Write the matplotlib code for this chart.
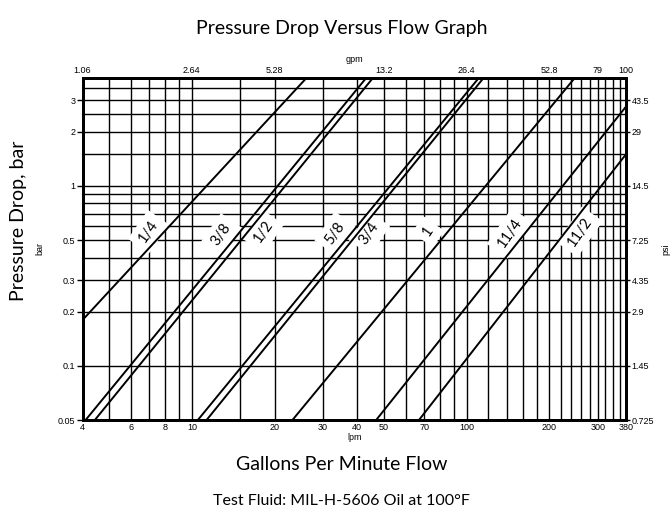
import matplotlib
matplotlib.use('Agg')
import matplotlib.pyplot as plt

# grid positions (lpm on x, bar on y)
lpm_grid = [5, 6, 7, 8, 9, 10, 15, 20, 30, 40, 50, 60, 70, 80, 90, 100,
            120, 140, 160, 180, 200, 220, 240, 260, 280, 300, 320, 340, 360]
bar_grid = [0.1, 0.2, 0.3, 0.4, 0.5, 0.6, 0.7, 0.8, 0.9, 1, 1.5, 2, 2.5, 3, 3.5]

lpm_ticks = [4, 6, 8, 10, 20, 30, 40, 50, 70, 100, 200, 300, 380]
gpm_pos = [4, 10, 20, 50, 100, 200, 300, 380]
gpm_labels = ['1.06', '2.64', '5.28', '13.2', '26.4', '52.8', '79', '100']
bar_ticks = [0.05, 0.1, 0.2, 0.3, 0.5, 1, 2, 3]
bar_labels = ['0.05', '0.1', '0.2', '0.3', '0.5', '1', '2', '3']
psi_labels = ['0.725', '1.45', '2.9', '4.35', '7.25', '14.5', '29', '43.5']

sizes = ['1/4', '3/8', '1/2', '5/8', '3/4', '1', '11/4', '11/2']
start_lpm = [4, 4.1, 4.43, 10.5, 11.3, 23.2, 46.8, 67]
start_bar = [0.18, 0.05, 0.05, 0.05, 0.05, 0.05, 0.05, 0.05]
end_lpm = [26.2, 43.2, 45.7, 111, 115.5, 248, 380, 380]
end_bar = [4, 4, 4, 4, 4, 4, 2.76, 1.5]
label_lpm = [6.95, 12.8, 18.2, 33.2, 44.3, 72.4, 143.5, 258]
label_bar = [0.557, 0.535, 0.557, 0.546, 0.546, 0.557, 0.546, 0.557]

TICKFONT = 'Liberation Sans'
TITLEFONT = 'Lato'

fig = plt.figure(figsize=(6.72, 5.19), dpi=100)
ax = fig.add_axes([0.1228, 0.1904, 0.8087, 0.6601])
ax.set_xscale('log')
ax.set_yscale('log')
ax.set_xlim(4, 380)
ax.set_ylim(0.05, 4)

for v in lpm_grid:
    ax.axvline(v, color='black', lw=1.0, zorder=1)
for v in bar_grid:
    ax.axhline(v, color='black', lw=1.0, zorder=1)

for i in range(len(sizes)):
    ax.plot([start_lpm[i], end_lpm[i]], [start_bar[i], end_bar[i]],
            color='black', lw=1.4, zorder=4, solid_capstyle='butt')
    ax.text(label_lpm[i], label_bar[i], sizes[i], rotation=55,
            ha='center', va='center', fontsize=10.5, family=TITLEFONT,
            rotation_mode='anchor', zorder=3,
            bbox=dict(boxstyle='square,pad=0.4', fc='white', ec='none'))

ax.minorticks_off()
ax.set_xticks(lpm_ticks)
ax.set_xticklabels([str(v) for v in lpm_ticks])
ax.set_yticks(bar_ticks)
ax.set_yticklabels(bar_labels)
ax.tick_params(axis='x', length=0, pad=2, labelsize=6.5)
ax.tick_params(axis='y', length=4, width=1, pad=1, labelsize=6.5)
for lab in ax.get_xticklabels() + ax.get_yticklabels():
    lab.set_family(TICKFONT)
ax.set_xlabel('lpm', fontsize=6.5, family=TICKFONT, labelpad=1)
ax.set_ylabel('bar', fontsize=6.5, family=TICKFONT, labelpad=10)

top = ax.twiny()
top.set_xscale('log')
top.set_xlim(4, 380)
top.minorticks_off()
top.set_xticks(gpm_pos)
top.set_xticklabels(gpm_labels)
top.tick_params(axis='x', length=0, pad=2, labelsize=6.5)
for lab in top.get_xticklabels():
    lab.set_family(TICKFONT)
top.set_xlabel('gpm', fontsize=6.5, family=TICKFONT, labelpad=3)

right = ax.twinx()
right.set_yscale('log')
right.set_ylim(0.05, 4)
right.minorticks_off()
right.set_yticks(bar_ticks)
right.set_yticklabels(psi_labels)
right.tick_params(axis='y', length=3, width=1, pad=1, labelsize=6.5)
for lab in right.get_yticklabels():
    lab.set_family(TICKFONT)
right.set_ylabel('psi', fontsize=6.5, family=TICKFONT, labelpad=5)

for a in (ax, top, right):
    for s in a.spines.values():
        s.set_linewidth(2)

fig.text(0.509, 0.946, 'Pressure Drop Versus Flow Graph', ha='center', va='center',
         fontsize=14, family=TITLEFONT)
fig.text(0.027, 0.574, 'Pressure Drop, bar', rotation=90, ha='center', va='center',
         fontsize=14, family=TITLEFONT)
fig.text(0.508, 0.105, 'Gallons Per Minute Flow', ha='center', va='center',
         fontsize=14, family=TITLEFONT)
fig.text(0.508, 0.035, 'Test Fluid: MIL-H-5606 Oil at 100\u00b0F', ha='center', va='center',
         fontsize=11.5, family=TITLEFONT)

fig.savefig('out.png', dpi=100)
